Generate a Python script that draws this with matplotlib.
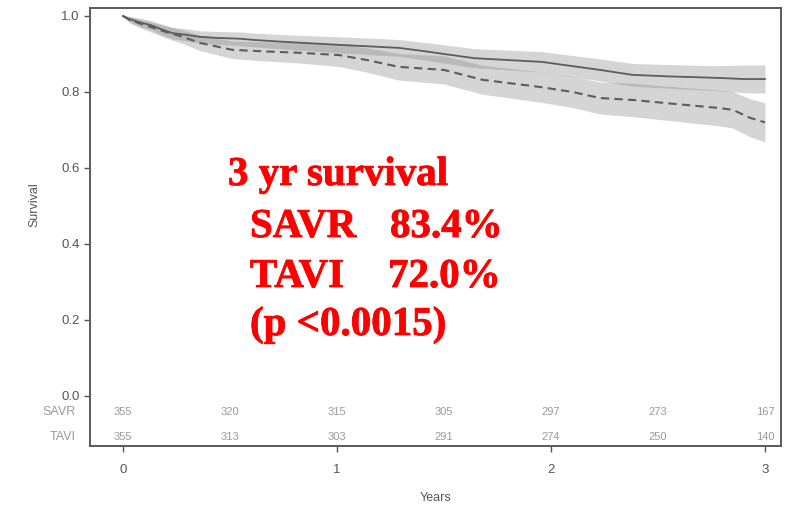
import matplotlib
matplotlib.use("Agg")
import matplotlib.pyplot as plt
import matplotlib.patheffects as pe

# Kaplan-Meier estimates with 95% CI (years, survival)
savr_t = [0, 0.03, 0.08, 0.13, 0.18, 0.23, 0.30, 0.36, 0.45, 0.55, 0.61, 0.75, 0.88, 1.01,
          1.15, 1.29, 1.40, 1.50, 1.64, 1.80, 1.96, 2.10, 2.23, 2.38, 2.55, 2.78, 2.90, 3.0]
savr_s = [1.0, 0.992, 0.983, 0.976, 0.965, 0.955, 0.950, 0.945, 0.942, 0.940, 0.937, 0.932, 0.928, 0.924,
          0.920, 0.916, 0.908, 0.900, 0.889, 0.884, 0.879, 0.868, 0.858, 0.845, 0.841, 0.837, 0.834, 0.834]
savr_lo = [1.0, 0.985, 0.972, 0.964, 0.951, 0.940, 0.934, 0.929, 0.925, 0.922, 0.919, 0.913, 0.908, 0.903,
           0.898, 0.894, 0.885, 0.876, 0.864, 0.858, 0.852, 0.840, 0.829, 0.815, 0.810, 0.803, 0.798, 0.797]
savr_hi = [1.0, 0.999, 0.994, 0.988, 0.979, 0.970, 0.966, 0.961, 0.959, 0.958, 0.955, 0.951, 0.948, 0.945,
           0.942, 0.938, 0.931, 0.924, 0.914, 0.910, 0.906, 0.896, 0.887, 0.875, 0.872, 0.869, 0.871, 0.871]

tavi_t = [0, 0.03, 0.08, 0.13, 0.20, 0.28, 0.36, 0.51, 0.65, 0.83, 1.01, 1.14, 1.29, 1.50,
          1.68, 1.95, 2.10, 2.23, 2.38, 2.55, 2.78, 2.85, 2.93, 3.0]
tavi_s = [1.0, 0.990, 0.980, 0.971, 0.958, 0.945, 0.929, 0.911, 0.907, 0.903, 0.897, 0.884, 0.866, 0.858,
          0.832, 0.813, 0.800, 0.784, 0.779, 0.770, 0.758, 0.753, 0.732, 0.720]
tavi_lo = [1.0, 0.982, 0.969, 0.958, 0.942, 0.927, 0.909, 0.888, 0.882, 0.876, 0.867, 0.852, 0.831, 0.821,
           0.794, 0.773, 0.759, 0.742, 0.735, 0.725, 0.711, 0.705, 0.682, 0.668]
tavi_hi = [1.0, 0.998, 0.991, 0.984, 0.974, 0.963, 0.949, 0.934, 0.932, 0.930, 0.927, 0.916, 0.901, 0.895,
           0.870, 0.853, 0.841, 0.826, 0.823, 0.815, 0.805, 0.801, 0.782, 0.772]

# numbers at risk
risk_t = [0, 0.5, 1, 1.5, 2, 2.5, 3]
risk_savr = [355, 320, 315, 305, 297, 273, 167]
risk_tavi = [355, 313, 303, 291, 274, 250, 140]

plt.rcParams['font.family'] = ['Liberation Sans', 'DejaVu Sans']

fig = plt.figure(figsize=(7.85, 5.05), dpi=100)
ax = fig.add_axes([90 / 785, 59 / 505, 691 / 785, 438 / 505])

band = '#808080'
line = '#5c5c5c'
ax.fill_between(savr_t, savr_lo, savr_hi, color=band, alpha=0.33, lw=0)
ax.fill_between(tavi_t, tavi_lo, tavi_hi, color=band, alpha=0.33, lw=0)
ax.plot(savr_t, savr_s, color=line, lw=1.3)
ax.plot(tavi_t, tavi_s, color=line, lw=1.5, ls=(0, (4, 2.5)))

ax.set_xlim(-0.154, 3.075)
ax.set_ylim(-0.132, 1.021)
ax.set_xticks([0, 1, 2, 3])
ax.set_yticks([0.0, 0.2, 0.4, 0.6, 0.8, 1.0])
ax.set_yticklabels(['0.0', '0.2', '0.4', '0.6', '0.8', '1.0'])
ax.tick_params(colors='#555555', labelsize=9.5, length=4, width=1)
ax.tick_params(axis='x', pad=9)
for sp in ax.spines.values():
    sp.set_color('#5a5a5a')
    sp.set_linewidth(1.4)

ax.set_xlabel('Years', fontsize=9, color='#555555')
ax.xaxis.set_label_coords(0.5, -0.105)
ax.set_ylabel('Survival', fontsize=9, color='#555555')
ax.yaxis.set_label_coords(-0.072, 0.55)

# at-risk rows inside the axes
for x, a, b in zip(risk_t, risk_savr, risk_tavi):
    ax.text(x, -0.042, str(a), ha='center', va='center', fontsize=8, color='#9a9a9a')
    ax.text(x, -0.108, str(b), ha='center', va='center', fontsize=8, color='#9a9a9a')
ax.text(-0.22, -0.042, 'SAVR', ha='right', va='center', fontsize=9, color='#9a9a9a')
ax.text(-0.22, -0.108, 'TAVI', ha='right', va='center', fontsize=9, color='#9a9a9a')

# summary annotation, heavy serif in red
red = dict(color='red', family='Liberation Serif', fontweight='bold', fontsize=29.5,
           va='baseline', path_effects=[pe.withStroke(linewidth=0.6, foreground='red')])
fig.text(228 / 785, 1 - 185 / 505, '3 yr survival', **red)
fig.text(250 / 785, 1 - 237 / 505, 'SAVR', **red)
fig.text(390 / 785, 1 - 237 / 505, '83.4%', **red)
fig.text(250 / 785, 1 - 287 / 505, 'TAVI', **red)
fig.text(388 / 785, 1 - 287 / 505, '72.0%', **red)
fig.text(250 / 785, 1 - 335 / 505, '(p <0.0015)', **red)

fig.savefig('out.png', dpi=100)
